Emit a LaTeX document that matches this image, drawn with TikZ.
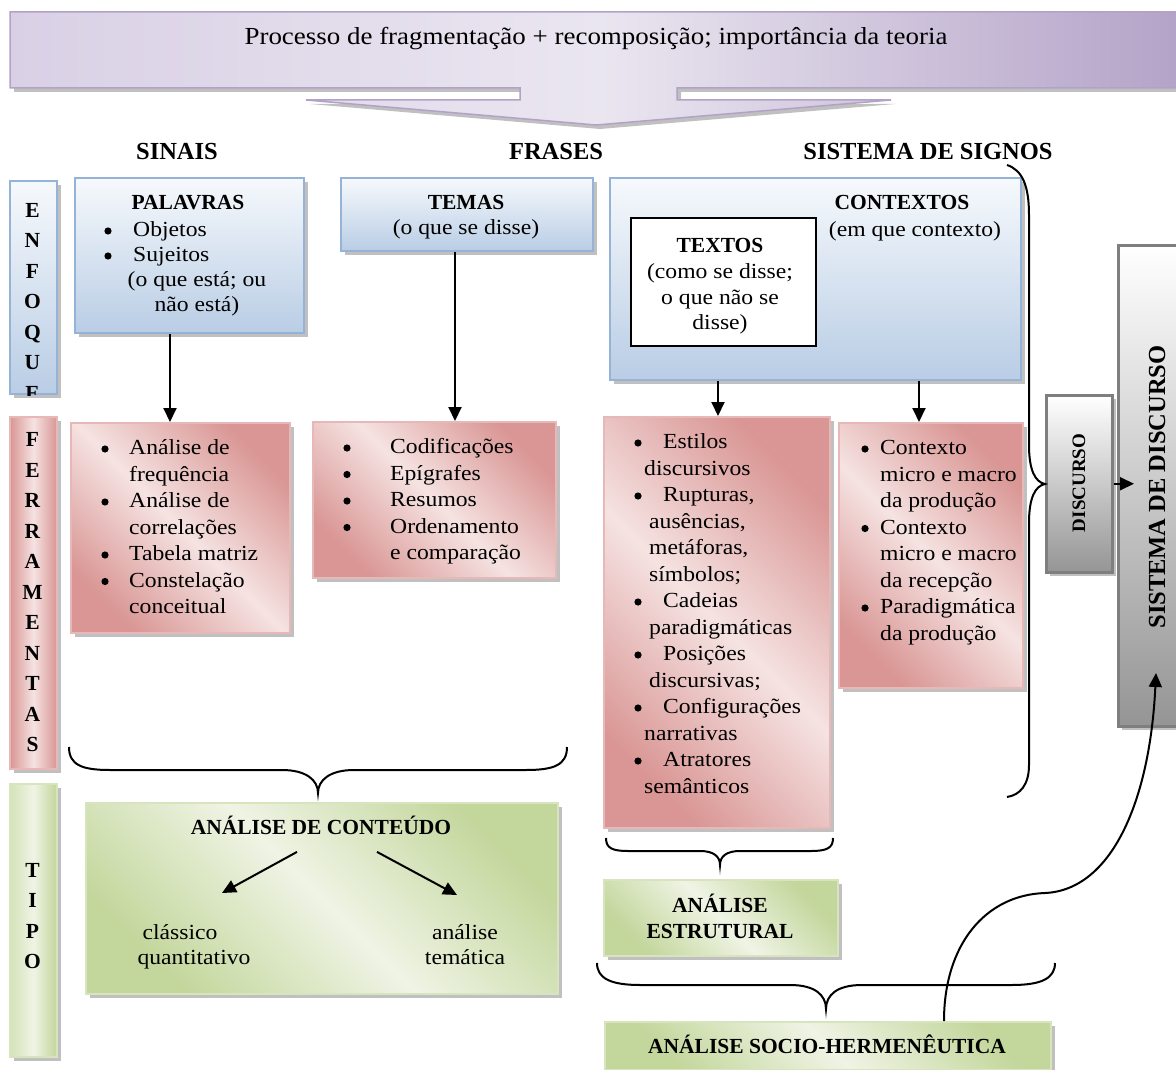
\documentclass[tikz,border=0pt]{standalone}
\usepackage{fontspec}
\setmainfont{Liberation Serif}[UprightFeatures={FakeStretch=1.1}]
\usetikzlibrary{shadows,calc,arrows.meta}

\definecolor{blueB}{HTML}{95B3D7}
\definecolor{blueF}{HTML}{B9CDE5}
\definecolor{blueT}{HTML}{F6F9FC}
\definecolor{pinkD}{HTML}{D99694}
\definecolor{pinkL}{HTML}{F5E3E2}
\definecolor{pinkB}{HTML}{E6B9B8}
\definecolor{greenD}{HTML}{C3D69B}
\definecolor{greenL}{HTML}{EFF4E5}
\definecolor{greenB}{HTML}{D7E4BD}
\definecolor{grayB}{HTML}{7F7F7F}
\definecolor{grayF}{HTML}{959595}
\definecolor{lilacL}{HTML}{EAE6F0}
\definecolor{lilacM}{HTML}{D9D0E5}
\definecolor{lilacD}{HTML}{B3A2C7}

% text line helpers placed on their baseline: west-aligned, centred,
% and west-aligned with a round bullet #4 pt to the left of the text
\newcommand\lineW[4]{\node[anchor=base west] (#1) at (#2,#3) {#4};}
\newcommand\lineC[4]{\node[anchor=base] (#1) at (#2,#3) {#4};}
\newcommand\lineB[5]{\node[anchor=base west] (#1) at (#2,#3) {#5};
  \fill ($(#1.base west)+(-#4,-5.5)$) circle (3.6pt);}

\tikzset{
  every node/.style={font=\fontsize{21.5}{26.5}\selectfont, inner sep=0pt},
  shadowed/.style={drop shadow={shadow xshift=4pt, shadow yshift=-4pt, fill=gray!90!black, opacity=0.45}},
  box/.style={draw, line width=2pt, rectangle, anchor=north west, shadowed},
  bluebox/.style={box, draw=blueB, top color=blueT, bottom color=blueF},
  pinkbox/.style={box, draw=pinkB, left color=pinkD, right color=pinkD, middle color=pinkL, shading angle=135},
  greenbox/.style={box, draw=greenB, left color=greenD, right color=greenD, middle color=greenL, shading angle=135},
  graybox/.style={box, draw=grayB, line width=2.5pt, top color=white, bottom color=grayF},
  pinkbar/.style={box, draw=pinkB, left color=pinkD, right color=pinkD, middle color=pinkL},
  greenbar/.style={box, draw=greenB, left color=greenD!70, right color=greenD, middle color=greenL},
  bluebar/.style={box, draw=blueB, top color=blueT, bottom color=blueF},
  letters/.style={font=\bfseries\fontsize{21.5}{30.5}\selectfont, align=center},
  header/.style={font=\bfseries\fontsize{24.5}{28}\selectfont},
  arr/.style={line width=2pt, -{Triangle[length=14pt,width=13pt]}},
  brace/.style={line width=2pt}
}

\begin{document}
\begin{tikzpicture}[x=1pt, y=-1pt]
\clip (0,0) rectangle (1176,1070);

% ---- banner with downward arrow
\path[draw=lilacD, line width=1.5pt, left color=lilacM, right color=lilacD, middle color=lilacL, shadowed]
  (10,12) -- (1190,12) -- (1190,88) -- (677,88) -- (677,100) -- (891,100)
  -- (596,125) -- (306,100) -- (520,100) -- (520,88) -- (10,88) -- cycle;
\node[font=\fontsize{24.5}{28}\selectfont] (ban) at (596,39) {Processo de fragmentação + recomposição; importância da teoria};

% ---- column headers
\node[header, anchor=base] (hSin) at (177,160) {SINAIS};
\node[header, anchor=base] (hFra) at (556,160) {FRASES};
\node[header, anchor=base] (hSis) at (928,160) {SISTEMA DE SIGNOS};

% ---- row labels
\node[bluebar, minimum width=47pt, minimum height=213pt] (enf) at (9,180) {};
\begin{scope}
  \clip (enf.north west) rectangle (enf.south east);
  \node[letters] (enfL) at (32.5,301.5) {E\\N\\F\\O\\Q\\U\\E};
\end{scope}
\node[pinkbar, minimum width=47pt, minimum height=352pt] (fer) at (9,416) {};
\node[letters] (ferL) at (32.5,592.5) {F\\E\\R\\R\\A\\M\\E\\N\\T\\A\\S};
\node[greenbar, minimum width=47pt, minimum height=273pt] (tip) at (9,783) {};
\node[letters] (tipL) at (32.5,916) {T\\I\\P\\O};

% ---- focus boxes
\node[bluebox, minimum width=229pt, minimum height=155pt] (pal) at (74,177) {};
\lineC{palT}{188}{209}{\bfseries PALAVRAS}
\lineB{pal1}{133}{236.5}{25}{Objetos}
\lineB{pal2}{133}{261.5}{25}{Sujeitos}
\lineC{pal3}{197}{286.5}{(o que está; ou}
\lineC{pal4}{197}{311.5}{não está)}

\node[bluebox, minimum width=252pt, minimum height=73pt] (tem) at (340,177) {};
\lineC{temT}{466}{209}{\bfseries TEMAS}
\lineC{tem1}{466}{234.5}{(o que se disse)}

\node[bluebox, minimum width=411pt, minimum height=202pt] (con) at (609,177) {};
\lineC{conT}{902}{210}{\bfseries CONTEXTOS}
\lineC{con1}{915}{236.5}{(em que contexto)}
\node[draw=black, line width=2pt, fill=white, anchor=north west, minimum width=185pt, minimum height=128pt] (tex) at (630,217) {};
\lineC{texT}{720}{252}{\bfseries TEXTOS}
\lineC{tex1}{720}{278.5}{(como se disse;}
\lineC{tex2}{720}{304.5}{o que não se}
\lineC{tex3}{720}{329.5}{disse)}

% ---- tool boxes
\node[pinkbox, minimum width=219pt, minimum height=210pt] (f1) at (70,422) {};
\lineB{f1a}{129}{454.5}{24}{Análise de}
\lineW{f1b}{129}{481}{frequência}
\lineB{f1c}{129}{507.5}{24}{Análise de}
\lineW{f1d}{129}{534}{correlações}
\lineB{f1e}{129}{560.5}{24}{Tabela matriz}
\lineB{f1f}{129}{587}{24}{Constelação}
\lineW{f1g}{129}{613.5}{conceitual}

\node[pinkbox, minimum width=243pt, minimum height=156pt] (f2) at (312,421) {};
\lineB{f2a}{390}{453.5}{43}{Codificações}
\lineB{f2b}{390}{480}{43}{Epígrafes}
\lineB{f2c}{390}{506.5}{43}{Resumos}
\lineB{f2d}{390}{533}{43}{Ordenamento}
\lineW{f2e}{390}{559.5}{e comparação}

\node[pinkbox, minimum width=226pt, minimum height=411pt] (f3) at (603,416) {};
\lineB{f3a}{663}{448.5}{25}{Estilos}
\lineW{f3b}{644}{475}{discursivos}
\lineB{f3c}{663}{501.5}{25}{Rupturas,}
\lineW{f3d}{649}{528}{ausências,}
\lineW{f3e}{649}{554.5}{metáforas,}
\lineW{f3f}{649}{581}{símbolos;}
\lineB{f3g}{663}{607.5}{25}{Cadeias}
\lineW{f3h}{649}{634}{paradigmáticas}
\lineB{f3i}{663}{660.5}{25}{Posições}
\lineW{f3j}{649}{687}{discursivas;}
\lineB{f3k}{663}{713.5}{25}{Configurações}
\lineW{f3l}{644}{740}{narrativas}
\lineB{f3m}{663}{766.5}{25}{Atratores}
\lineW{f3n}{644}{793}{semânticos}

\node[pinkbox, minimum width=184pt, minimum height=265pt] (f4) at (838,422) {};
\lineB{f4a}{880}{454.5}{15}{Contexto}
\lineW{f4b}{880}{481}{micro e macro}
\lineW{f4c}{880}{507.5}{da produção}
\lineB{f4d}{880}{534}{15}{Contexto}
\lineW{f4e}{880}{560.5}{micro e macro}
\lineW{f4f}{880}{587}{da recepção}
\lineB{f4g}{880}{613.5}{15}{Paradigmática}
\lineW{f4h}{880}{640}{da produção}

% ---- analysis types
\node[greenbox, minimum width=472pt, minimum height=191pt] (ac) at (85,802) {};
\lineC{acT}{321}{834.5}{\bfseries ANÁLISE DE CONTEÚDO}
\lineC{ac1}{180}{939.5}{clássico}
\lineC{ac2}{194}{964.5}{quantitativo}
\lineC{ac3}{465}{939.5}{análise}
\lineC{ac4}{465}{964.5}{temática}

\node[greenbox, minimum width=234pt, minimum height=76pt] (ae) at (603,879) {};
\lineC{aeT}{720}{912.5}{\bfseries ANÁLISE}
\lineC{aeT2}{720}{938.5}{\bfseries ESTRUTURAL}

\node[greenbox, minimum width=446pt, minimum height=48pt] (soc) at (604,1021) {};
\lineC{socT}{827}{1053.5}{\bfseries ANÁLISE SOCIO-HERMENÊUTICA}

% ---- discourse boxes
\node[graybox, minimum width=66pt, minimum height=177pt] (disc) at (1045,394) {};
\node[rotate=90, font=\bfseries\fontsize{19}{22}\selectfont] (discT) at (1079,483) {DISCURSO};
\node[graybox, minimum width=80pt, minimum height=481pt] (sis) at (1117,244) {};
\node[rotate=90, font=\bfseries\fontsize{24.5}{28}\selectfont] (sisT) at (1157,487) {SISTEMA DE DISCURSO};

% ---- connectors
\coordinate (ax1) at (170,0);
\coordinate (ax2) at (455,0);
\coordinate (ax3) at (718,0);
\coordinate (ax4) at (919,0);
\draw[arr] (pal.south -| ax1) -- (f1.north -| ax1);
\draw[arr] (tem.south -| ax2) -- (f2.north -| ax2);
\draw[arr] (con.south -| ax3) -- (f3.north -| ax3);
\draw[arr] (con.south -| ax4) -- (f4.north -| ax4);

\coordinate (acL) at (222,893);
\coordinate (acR) at (457,895);
\draw[arr] ($(acT.south)+(-24,17)$) -- (acL);
\draw[arr] ($(acT.south)+(56,17)$) -- (acR);

\coordinate (dTip) at (1134,0);
\draw[arr] (disc.east) -- (disc.east -| dTip);

\coordinate (sx) at (944,0);
\coordinate (sTip) at (1156,673);
\draw[arr] (soc.north -| sx) .. controls (944,945) and (985,895) .. (1045,893)
  .. controls (1112,890) and (1150,800) .. (sTip);

% ---- braces
\draw[brace] (69,747) .. controls (69,765) and (82,770) .. (110,770) -- (282,770)
  .. controls (306,770) and (318,780) .. (318,793)
  .. controls (318,780) and (330,770) .. (354,770) -- (526,770)
  .. controls (554,770) and (567,765) .. (567,747);
\draw[brace] (606,838) .. controls (606,848) and (612,851) .. (628,851) -- (700,851)
  .. controls (713,851) and (720,856) .. (720,865)
  .. controls (720,856) and (727,851) .. (740,851) -- (811,851)
  .. controls (827,851) and (833,848) .. (833,838);
\draw[brace] (597,963) .. controls (597,978) and (610,985) .. (640,985) -- (790,985)
  .. controls (815,985) and (826,995) .. (826,1009)
  .. controls (826,995) and (837,985) .. (862,985) -- (1012,985)
  .. controls (1042,985) and (1055,978) .. (1055,963);
\draw[brace] (1007,165) .. controls (1022,170) and (1029,185) .. (1029,215) -- (1029,445)
  .. controls (1029,470) and (1035,482) .. (1045,484)
  .. controls (1035,486) and (1029,498) .. (1029,523) -- (1029,765)
  .. controls (1029,785) and (1020,795) .. (1007,797);
\end{tikzpicture}
\end{document}
